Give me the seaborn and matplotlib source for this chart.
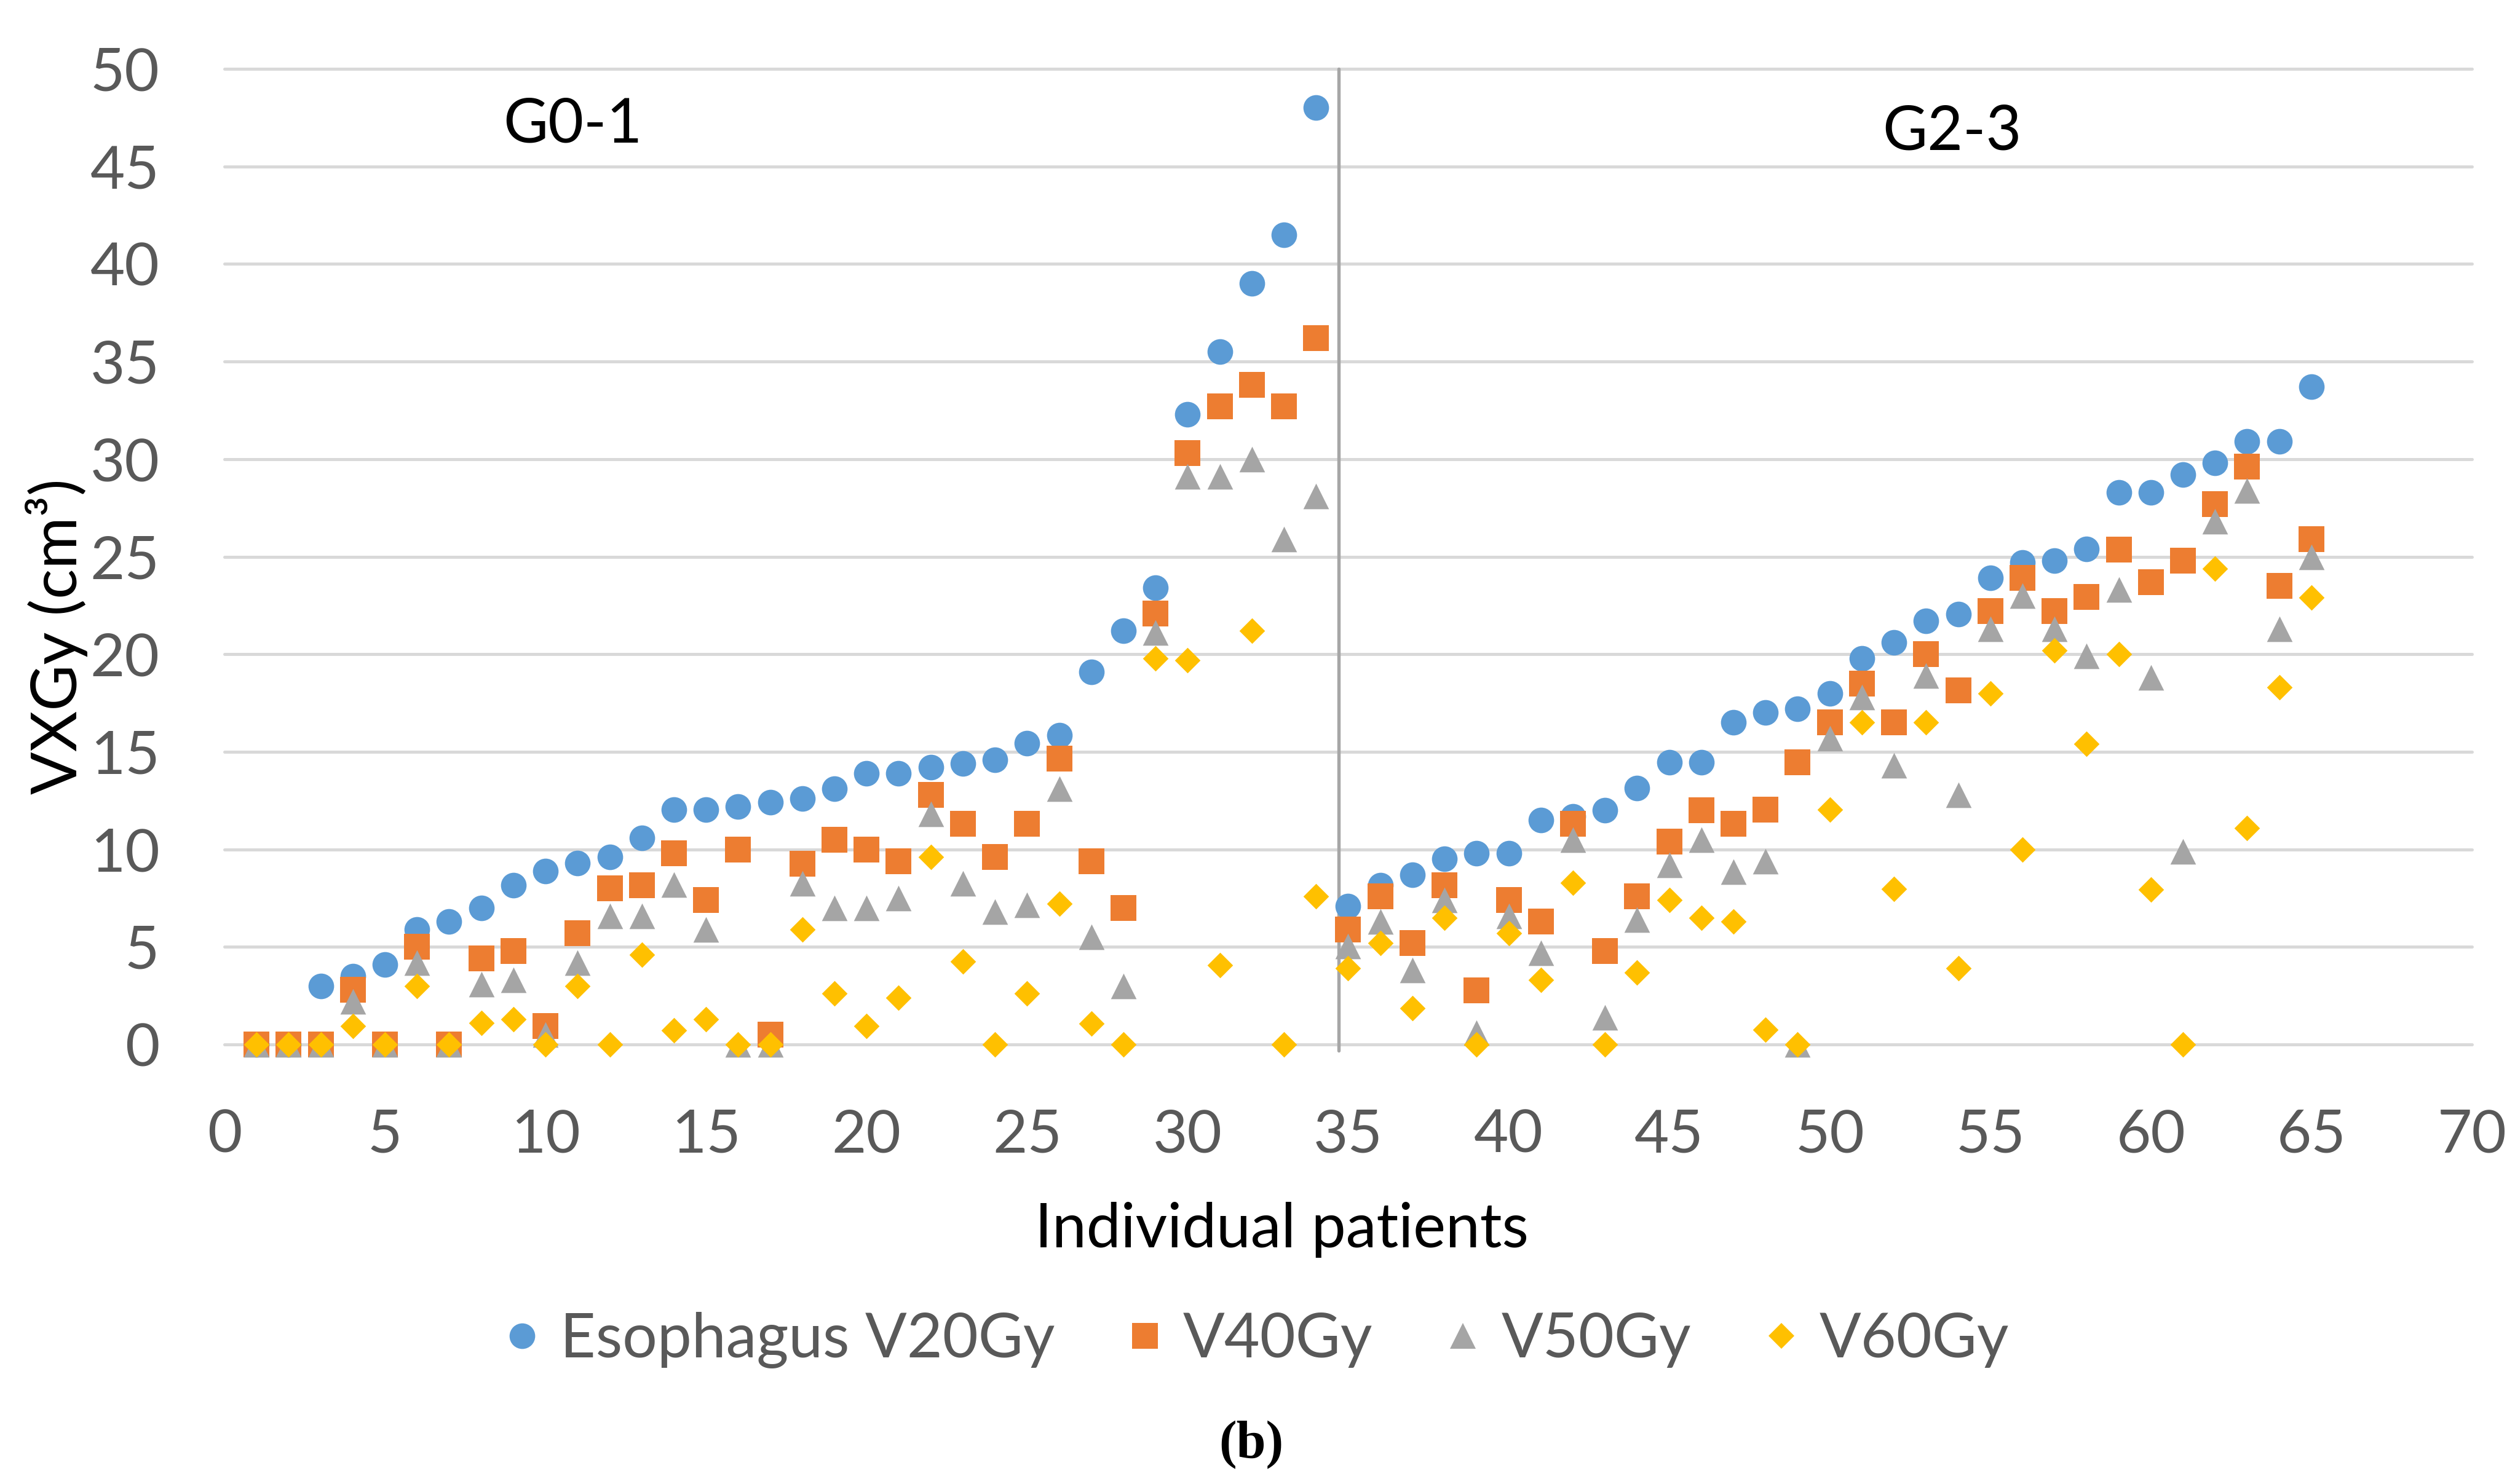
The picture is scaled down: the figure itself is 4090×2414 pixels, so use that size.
import numpy as np
import pandas as pd
import matplotlib
matplotlib.use("Agg")
import matplotlib.pyplot as plt
from matplotlib.lines import Line2D
import seaborn as sns

# ---------------- data ----------------
patients = list(range(1, 66))
v20 = [0, 0, 3.0, 3.5, 4.1, 5.9, 6.3, 7.0, 8.15, 8.9,
       9.3, 9.6, 10.6, 12.05, 12.05, 12.2, 12.4, 12.6, 13.1, 13.9,
       13.9, 14.2, 14.4, 14.6, 15.45, 15.85, 19.1, 21.2, 23.4, 32.3,
       35.5, 39.0, 41.5, 48.0, 7.1, 8.15, 8.7, 9.5, 9.8, 9.8,
       11.5, 11.7, 12.0, 13.15, 14.45, 14.45, 16.5, 17.0, 17.2, 18.0,
       19.8, 20.6, 21.7, 22.05, 23.9, 24.7, 24.8, 25.4, 28.3, 28.3,
       29.2, 29.8, 30.9, 30.9, 33.7]
v40 = [0, 0, 0, 2.8, 0, 5.0, 0, 4.4, 4.8, 0.94,
       5.7, 8.0, 8.15, 9.8, 7.4, 10.0, 0.5, 9.25, 10.5, 10.0,
       9.4, 12.8, 11.3, 9.6, 11.3, 14.65, 9.4, 7.0, 22.1, 30.3,
       32.7, 33.8, 32.7, 36.2, 5.9, 7.6, 5.2, 8.15, 2.76, 7.4,
       6.3, 11.3, 4.8, 7.6, 10.4, 12.0, 11.3, 12.05, 14.45, 16.5,
       18.5, 16.5, 20.0, 18.15, 22.2, 23.9, 22.2, 22.95, 25.35, 23.7,
       24.8, 27.7, 29.6, 23.5, 25.9]
v50 = [0, 0, 0, 2.2, 0, 4.2, 0, 3.1, 3.3, 0.5,
       4.2, 6.6, 6.6, 8.2, 5.9, 0, 0, 8.25, 7.0, 7.0,
       7.5, 11.8, 8.25, 6.8, 7.15, 13.1, 5.5, 3.0, 21.1, 29.1,
       29.1, 30.0, 25.9, 28.1, 5.05, 6.3, 3.8, 7.4, 0.6, 6.6,
       4.7, 10.5, 1.4, 6.4, 9.2, 10.5, 8.85, 9.4, 0, 15.7,
       17.8, 14.3, 18.9, 12.8, 21.3, 23.0, 21.3, 19.9, 23.3, 18.8,
       9.9, 26.8, 28.4, 21.3, 25.0]
v60 = [0, 0, 0, 0.95, 0, 3.0, 0, 1.1, 1.3, 0,
       3.0, 0, 4.6, 0.74, 1.3, 0, 0, 5.9, 2.6, 0.93,
       2.4, 9.6, 4.25, 0, 2.6, 7.2, 1.06, 0, 19.8, 19.7,
       4.06, 21.2, 0, 7.6, 3.9, 5.2, 1.85, 6.5, 0, 5.7,
       3.3, 8.3, 0, 3.7, 7.4, 6.5, 6.3, 0.76, 0, 12.05,
       16.5, 7.96, 16.5, 3.9, 18.0, 10.0, 20.2, 15.4, 20.0, 7.95,
       0, 24.4, 11.1, 18.3, 22.9]

series_names = ["Esophagus V20Gy", "V40Gy", "V50Gy", "V60Gy"]
series_values = [v20, v40, v50, v60]
series_colors = ["#5B9BD5", "#ED7D31", "#A5A5A5", "#FFC000"]
series_markers = ["o", "s", "^", "D"]
series_sizes = [30, 30, 30, 21.2]  # marker size in points

x_ticks = list(range(0, 71, 5))
y_ticks = list(range(0, 51, 5))
group_labels = ["G0-1", "G2-3"]
group_pos = [(10.85, 47.13), (53.8, 46.75)]
divider_x = 34.7

# ---------------- figure ----------------
sns.set_theme(style="white")
plt.rcParams["font.family"] = ["Lato", "DejaVu Sans"]

W, H = 4091, 2414
fig = plt.figure(figsize=(W / 100, H / 100), dpi=100)
ax = fig.add_axes([365 / W, (H - 1699) / H, (4020 - 365) / W, (1699 - 112) / H])

df = pd.DataFrame({"patient": patients * 4,
                   "value": sum(series_values, []),
                   "series": np.repeat(series_names, len(patients))})

for i, name in enumerate(series_names):
    sub = df[df["series"] == name]
    sns.scatterplot(data=sub, x="patient", y="value", ax=ax,
                    marker=series_markers[i], color=series_colors[i],
                    s=series_sizes[i] ** 2, linewidth=0, legend=False,
                    clip_on=False, zorder=3 + i)

ax.set_xlim(0, 70)
ax.set_ylim(0, 50)
ax.set_xticks(x_ticks)
ax.set_yticks(y_ticks)
for sp in ax.spines.values():
    sp.set_visible(False)
ax.grid(False)
for yv in y_ticks:
    ax.axhline(yv, color="#D9D9D9", lw=3.6, zorder=1, clip_on=False)
ax.plot([divider_x, divider_x], [-0.3, 50], color="#A6A6A6", lw=3.9,
        zorder=2, clip_on=False)

ax.tick_params(axis="both", length=0, labelsize=70, labelcolor="#595959")
ax.tick_params(axis="x", pad=75)
ax.tick_params(axis="y", pad=76)
ax.set_xlabel("")
ax.set_ylabel("")

for lab, (gx, gy) in zip(group_labels, group_pos):
    ax.text(gx, gy, lab, fontsize=72, color="black", ha="center", va="center")

fig.text(2084 / W, (H - 2029) / H, "Individual patients", fontsize=72,
         color="black", ha="center", va="baseline")
fig.text(92 / W, (H - 1035) / H, "VXGy (cm³)", fontsize=74, color="black",
         rotation=90, ha="center", va="center")

handles = [Line2D([0], [0], marker=m, color="none", markerfacecolor=c,
                  markeredgewidth=0, markersize=s, linestyle="none")
           for m, c, s in zip(series_markers, series_colors, series_sizes)]
leg = fig.legend(handles, series_names, loc="center",
                 bbox_to_anchor=(0.5, (H - 2180) / H), ncol=4, frameon=False,
                 fontsize=72, handlelength=0.5, handletextpad=0.37,
                 columnspacing=1.22, borderpad=0)
for t in leg.get_texts():
    t.set_color("#595959")

fig.text(2035 / W, (H - 2350) / H, "(b)", fontsize=62, fontweight="bold",
         family=["Liberation Serif", "DejaVu Serif"], ha="center", va="center",
         color="black")

fig.savefig("out.png", dpi=100, facecolor="white")
